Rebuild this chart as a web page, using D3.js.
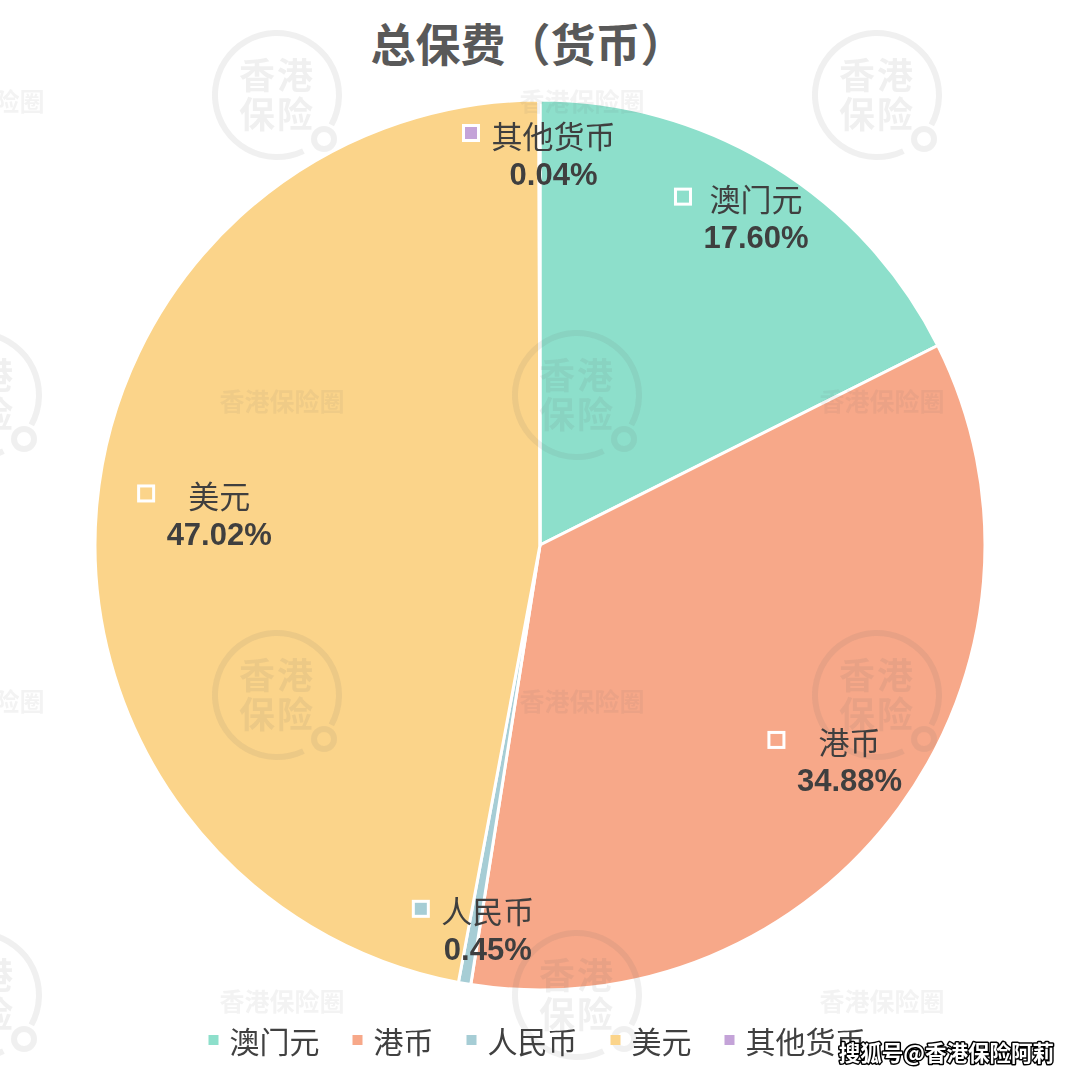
<!DOCTYPE html>
<html>
<head>
<meta charset="utf-8">
<script src="https://cdn.jsdelivr.net/npm/d3@7"></script>
<style>
  html, body { margin: 0; padding: 0; background: #ffffff; }
  svg { display: block; }
</style>
</head>
<body>
<svg id="chart" width="1080" height="1075"></svg>
<script>
// ---- data ----
const title = "总保费（货币）";
const categories = ["澳门元", "港币", "人民币", "美元", "其他货币"];
const values = [17.60, 34.88, 0.45, 47.02, 0.04];
const colors = ["#8ddfcb", "#f7a889", "#a6cdd5", "#fbd48a", "#c4a3d8"];
const credit = "搜狐号@香港保险阿莉";
const wmLogoText = ["香港", "保险"];
const wmText = "香港保险圈";

// ---- layout ----
const W = 1080, H = 1075;
const cx = 540, cy = 545, R = 445;
const cjk = "'Noto Sans CJK SC', 'Noto Sans', sans-serif";
const num = "'Liberation Sans', Arial, 'Noto Sans CJK SC', sans-serif";

const svg = d3.select("#chart");
const data = categories.map((c, i) => ({ name: c, value: values[i], color: colors[i] }));

// title
svg.append("text")
  .attr("x", 528).attr("y", 42)
  .attr("text-anchor", "middle").attr("dominant-baseline", "central")
  .attr("font-family", cjk).attr("font-weight", "bold").attr("font-size", 45)
  .attr("fill", "#595959").text(title);

// pie
const pie = d3.pie().sort(null).value(d => d.value).startAngle(0).endAngle(2 * Math.PI);
const arcs = pie(data);
const arc = d3.arc().innerRadius(0).outerRadius(R);
const g = svg.append("g").attr("transform", `translate(${cx},${cy})`);
g.selectAll("path.slice").data(arcs).join("path")
  .attr("class", "slice")
  .attr("d", arc)
  .attr("fill", d => d.data.color)
  .attr("stroke", "#ffffff").attr("stroke-width", 3).attr("stroke-linejoin", "round");

// watermarks (faint)
const wm = svg.append("g").attr("opacity", 0.1).attr("pointer-events", "none");
const ringArc = d3.arc().innerRadius(59).outerRadius(65).startAngle(0.86 * Math.PI).endAngle(2.66 * Math.PI);
const logoPos = [[277, 95], [877, 95], [577, 395], [-23, 395], [277, 695], [877, 695], [577, 995], [-23, 995]];
const textPos = [[582, 100], [-18, 100], [282, 400], [882, 400], [582, 700], [-18, 700], [282, 1000], [882, 1000]];
logoPos.forEach(([x, y]) => {
  const lg = wm.append("g").attr("transform", `translate(${x},${y})`);
  lg.append("path").attr("d", ringArc).attr("fill", "#6a6a6a");
  lg.append("circle").attr("cx", 47).attr("cy", 44).attr("r", 10)
    .attr("fill", "none").attr("stroke", "#6a6a6a").attr("stroke-width", 6);
  wmLogoText.forEach((t, i) => {
    lg.append("text").attr("x", 0).attr("y", i === 0 ? -22 : 17)
      .attr("text-anchor", "middle").attr("dominant-baseline", "central")
      .attr("font-family", cjk).attr("font-weight", "bold").attr("font-size", 36)
      .attr("letter-spacing", 2)
      .attr("fill", "#6a6a6a").text(t);
  });
});
textPos.forEach(([x, y]) => {
  wm.append("text").attr("x", x).attr("y", y)
    .attr("text-anchor", "middle").attr("dominant-baseline", "central")
    .attr("font-family", cjk).attr("font-weight", "bold").attr("font-size", 25)
    .attr("fill", "#6a6a6a").attr("opacity", 0.8).text(wmText);
});

// data labels (inside end, with legend key)
const measurer = svg.append("text").attr("visibility", "hidden");
function textWidth(str, family, size, weight) {
  measurer.attr("font-family", family).attr("font-size", size).attr("font-weight", weight).text(str);
  return measurer.node().getComputedTextLength();
}
const labelSize = 31, keySize = 15, keyGap = 13, lineGap = 40, pad = 18;
const labels = svg.append("g");
arcs.forEach(a => {
  const mid = (a.startAngle + a.endAngle) / 2;
  const sx = Math.sin(mid), sy = -Math.cos(mid);
  const pctStr = d3.format(".2f")(a.data.value) + "%";
  const w1 = textWidth(a.data.name, cjk, labelSize, "normal");
  const w2 = textWidth(pctStr, num, labelSize, "bold");
  const tw = Math.max(w1, w2);
  const bw = keySize + keyGap + tw, bh = 72;
  const t = Math.min(Math.abs(sx) > 1e-6 ? (bw / 2) / Math.abs(sx) : Infinity,
                     Math.abs(sy) > 1e-6 ? (bh / 2) / Math.abs(sy) : Infinity);
  // wide horizontal labels sit a little further from the rim
  const d = R - pad - t - 25 * Math.max(0, Math.abs(sx) - 0.9) * 10;
  const bx = cx + d * sx, by = cy + d * sy;
  const tx = bx + (keySize + keyGap) / 2;
  const y1 = by - lineGap / 2, y2 = by + lineGap / 2;
  labels.append("rect")
    .attr("x", tx - tw / 2 - keyGap - keySize).attr("y", y1 - keySize / 2 - 1)
    .attr("width", keySize).attr("height", keySize)
    .attr("fill", a.data.color).attr("stroke", "#ffffff").attr("stroke-width", 3);
  labels.append("text").attr("x", tx).attr("y", y1)
    .attr("text-anchor", "middle").attr("dominant-baseline", "central")
    .attr("font-family", cjk).attr("font-size", labelSize)
    .attr("fill", "#3f3f3f").text(a.data.name);
  labels.append("text").attr("x", tx).attr("y", y2)
    .attr("text-anchor", "middle").attr("dominant-baseline", "central")
    .attr("font-family", num).attr("font-weight", "bold").attr("font-size", labelSize)
    .attr("fill", "#3f3f3f").text(pctStr);
});

// legend
const legSize = 30, legKey = 10, legKeyGap = 11, legItemGap = 33, legY = 1040;
const items = data.map(d => ({ ...d, w: textWidth(d.name, cjk, legSize, "normal") }));
const total = d3.sum(items, d => legKey + legKeyGap + d.w) + legItemGap * (items.length - 1);
let lx = 537 - total / 2;
const leg = svg.append("g");
items.forEach(it => {
  leg.append("rect").attr("x", lx).attr("y", legY - legKey / 2)
    .attr("width", legKey).attr("height", legKey).attr("fill", it.color);
  leg.append("text").attr("x", lx + legKey + legKeyGap).attr("y", legY)
    .attr("dominant-baseline", "central")
    .attr("font-family", cjk).attr("font-size", legSize)
    .attr("fill", "#404040").text(it.name);
  lx += legKey + legKeyGap + it.w + legItemGap;
});
measurer.remove();

// credit overlay
svg.append("text").attr("x", 1054).attr("y", 1051)
  .attr("text-anchor", "end").attr("dominant-baseline", "central")
  .attr("font-family", cjk).attr("font-weight", "bold").attr("font-size", 21.5)
  .attr("fill", "#ffffff").attr("stroke", "#000000").attr("stroke-width", 3)
  .attr("paint-order", "stroke").attr("stroke-linejoin", "round")
  .text(credit);
</script>
</body>
</html>
